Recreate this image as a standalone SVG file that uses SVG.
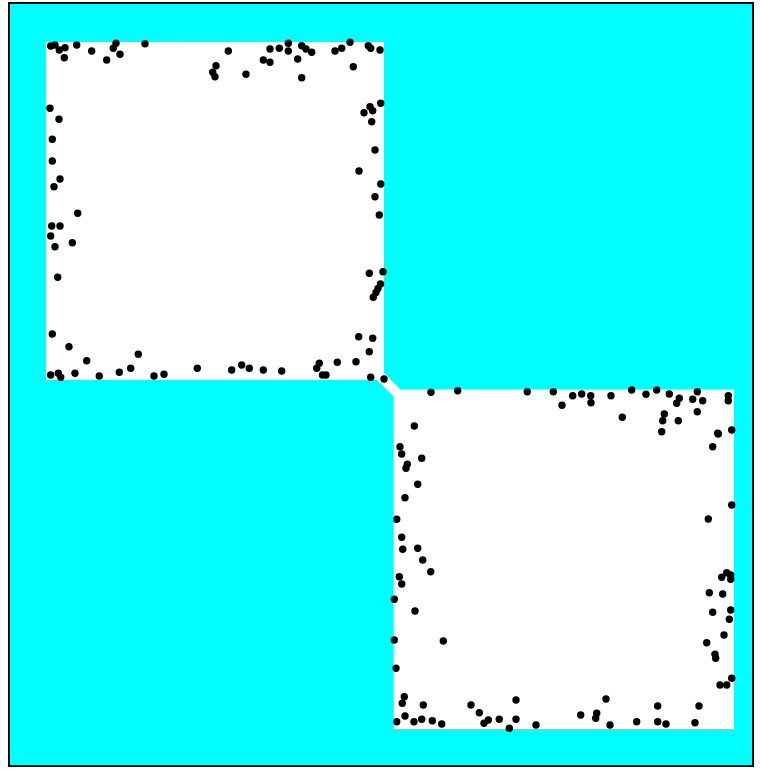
<svg xmlns="http://www.w3.org/2000/svg" xmlns:xlink="http://www.w3.org/1999/xlink" width="762" height="769" viewBox="0 0 762 769">
<style>
.d{fill:#000}
</style>
<defs><circle id="p" r="3.7" class="d"/></defs>
<rect x="0" y="0" width="762" height="769" fill="#fff"/>
<rect x="9" y="3" width="744" height="763" fill="#00ffff" stroke="#000" stroke-width="2"/>
<g id="squares" fill="#fff">
<rect x="46" y="42" width="338" height="338"/>
<rect x="393" y="389" width="341" height="340"/>
<polygon points="377,380 384,373 400,389 393,396"/>
</g>
<g id="dots">
<use href="#p" x="50.7" y="46"/><use href="#p" x="55" y="45"/><use href="#p" x="59.3" y="50"/><use href="#p" x="65" y="47.7"/><use href="#p" x="64.3" y="57.7"/><use href="#p" x="76.7" y="45"/><use href="#p" x="91.7" y="51"/><use href="#p" x="116" y="43.3"/><use href="#p" x="113.3" y="48.3"/><use href="#p" x="120" y="54.3"/><use href="#p" x="106.7" y="60"/><use href="#p" x="145" y="43.7"/>
<use href="#p" x="228.3" y="51"/><use href="#p" x="270" y="49"/><use href="#p" x="279.3" y="48.3"/><use href="#p" x="288.3" y="43.3"/><use href="#p" x="288.3" y="51"/><use href="#p" x="301.7" y="45.7"/><use href="#p" x="306" y="49"/><use href="#p" x="311.7" y="52.3"/><use href="#p" x="297.7" y="59"/><use href="#p" x="263.3" y="60"/><use href="#p" x="270" y="62.3"/><use href="#p" x="216" y="65.7"/><use href="#p" x="212.7" y="72.3"/><use href="#p" x="215" y="76.7"/><use href="#p" x="246" y="74.3"/><use href="#p" x="301.7" y="77.7"/><use href="#p" x="335" y="51"/><use href="#p" x="341.7" y="48.3"/><use href="#p" x="350" y="42.3"/><use href="#p" x="368.3" y="45.7"/><use href="#p" x="370.7" y="48.3"/><use href="#p" x="380" y="50"/><use href="#p" x="353.3" y="66.7"/>
<use href="#p" x="50" y="108.3"/><use href="#p" x="59" y="119.3"/><use href="#p" x="52.3" y="139.3"/><use href="#p" x="52.3" y="161"/><use href="#p" x="60" y="179"/><use href="#p" x="54" y="186.7"/><use href="#p" x="77.7" y="213.3"/><use href="#p" x="51.7" y="226"/><use href="#p" x="60" y="226"/><use href="#p" x="50.7" y="236"/><use href="#p" x="55" y="246.7"/><use href="#p" x="72.3" y="242.7"/><use href="#p" x="57.7" y="277.3"/>
<use href="#p" x="380.7" y="103.3"/><use href="#p" x="370" y="106.7"/><use href="#p" x="372.7" y="110.7"/><use href="#p" x="364" y="112.7"/><use href="#p" x="371.7" y="121.7"/><use href="#p" x="375" y="150"/><use href="#p" x="359" y="171"/><use href="#p" x="380.7" y="184"/><use href="#p" x="375" y="196.7"/><use href="#p" x="379.3" y="215"/><use href="#p" x="369.3" y="273.3"/><use href="#p" x="383" y="271.7"/><use href="#p" x="380.5" y="284"/><use href="#p" x="378" y="288.5"/><use href="#p" x="376" y="292.5"/><use href="#p" x="373.3" y="297.3"/>
<use href="#p" x="358.7" y="336.7"/><use href="#p" x="372.7" y="338.3"/><use href="#p" x="369.3" y="351.7"/><use href="#p" x="356" y="361.7"/><use href="#p" x="337.3" y="362.3"/><use href="#p" x="319.3" y="363.3"/><use href="#p" x="316.7" y="368.3"/><use href="#p" x="322.5" y="375"/><use href="#p" x="326" y="375"/><use href="#p" x="370.7" y="377.3"/><use href="#p" x="384" y="379"/><use href="#p" x="281.7" y="371"/><use href="#p" x="263.3" y="370"/><use href="#p" x="249.3" y="368.3"/><use href="#p" x="241.7" y="365"/><use href="#p" x="231.7" y="370"/>
<use href="#p" x="52.3" y="334"/><use href="#p" x="69" y="346.7"/><use href="#p" x="86.7" y="360.7"/><use href="#p" x="138.3" y="354.3"/><use href="#p" x="130.7" y="368.3"/><use href="#p" x="119.3" y="372.3"/><use href="#p" x="197.3" y="368.3"/><use href="#p" x="50.7" y="375"/><use href="#p" x="58.3" y="373.3"/><use href="#p" x="60.7" y="377.3"/><use href="#p" x="75" y="373.3"/><use href="#p" x="99.3" y="376"/><use href="#p" x="154" y="376"/><use href="#p" x="164" y="374.3"/>
<use href="#p" x="431" y="392.3"/><use href="#p" x="457.7" y="390.7"/><use href="#p" x="527.3" y="391.7"/><use href="#p" x="553.3" y="391.7"/><use href="#p" x="562" y="405.3"/><use href="#p" x="414.3" y="426"/>
<use href="#p" x="572.7" y="395.7"/><use href="#p" x="581.7" y="394"/><use href="#p" x="590.7" y="395.7"/><use href="#p" x="591" y="402.7"/><use href="#p" x="611" y="395.7"/><use href="#p" x="631.7" y="390"/><use href="#p" x="646" y="394.3"/><use href="#p" x="656.7" y="390"/><use href="#p" x="669.3" y="394"/><use href="#p" x="679.3" y="398.3"/><use href="#p" x="676.7" y="403.3"/><use href="#p" x="692.7" y="399.3"/><use href="#p" x="697.3" y="391.7"/><use href="#p" x="702.7" y="400.7"/><use href="#p" x="728.3" y="395.7"/><use href="#p" x="728.3" y="400.7"/><use href="#p" x="622.3" y="417.3"/><use href="#p" x="664.3" y="414"/><use href="#p" x="662.7" y="420.7"/><use href="#p" x="678.3" y="420.7"/><use href="#p" x="697.3" y="411.7"/><use href="#p" x="661.7" y="431.7"/><use href="#p" x="717.7" y="433.3"/><use href="#p" x="731.7" y="430"/>
<use href="#p" x="400" y="446.7"/><use href="#p" x="401.7" y="454"/><use href="#p" x="407.3" y="464.3"/><use href="#p" x="406" y="468.3"/><use href="#p" x="421.7" y="458.3"/><use href="#p" x="417.7" y="484.3"/><use href="#p" x="405" y="497.7"/><use href="#p" x="396.7" y="519.3"/><use href="#p" x="401.7" y="537.3"/><use href="#p" x="402.7" y="549.3"/><use href="#p" x="417.7" y="548.3"/><use href="#p" x="422.7" y="560"/><use href="#p" x="430.7" y="571.7"/><use href="#p" x="399.3" y="576.7"/><use href="#p" x="401.7" y="584"/><use href="#p" x="394.3" y="599.3"/><use href="#p" x="415" y="611"/><use href="#p" x="394.3" y="640"/><use href="#p" x="443.3" y="641"/><use href="#p" x="396" y="668.3"/>
<use href="#p" x="718.3" y="434"/><use href="#p" x="712.7" y="446.7"/><use href="#p" x="731.7" y="505"/><use href="#p" x="708.3" y="519"/><use href="#p" x="726.7" y="572.7"/><use href="#p" x="721.7" y="577.3"/><use href="#p" x="730.7" y="575"/><use href="#p" x="730.7" y="579.3"/><use href="#p" x="709.3" y="592.7"/><use href="#p" x="722.7" y="594"/><use href="#p" x="712.7" y="612.3"/><use href="#p" x="730.7" y="610"/><use href="#p" x="729.3" y="619.3"/><use href="#p" x="724" y="635"/><use href="#p" x="706.7" y="642.7"/><use href="#p" x="715" y="654.3"/><use href="#p" x="715.7" y="658.3"/><use href="#p" x="731.7" y="678.3"/><use href="#p" x="726.7" y="685"/><use href="#p" x="720" y="685"/><use href="#p" x="699" y="706"/>
<use href="#p" x="404.3" y="696.7"/><use href="#p" x="402.3" y="703.3"/><use href="#p" x="423.3" y="705"/><use href="#p" x="471" y="705"/><use href="#p" x="479.3" y="712.7"/><use href="#p" x="516" y="700"/><use href="#p" x="405" y="716"/><use href="#p" x="396.7" y="721.7"/><use href="#p" x="414" y="721.7"/><use href="#p" x="421.7" y="719.3"/><use href="#p" x="432.3" y="720.7"/><use href="#p" x="441.7" y="724"/><use href="#p" x="484" y="723.3"/><use href="#p" x="488.3" y="720"/><use href="#p" x="499.3" y="719.3"/><use href="#p" x="509.3" y="728.3"/><use href="#p" x="516" y="719.3"/><use href="#p" x="536" y="725"/>
<use href="#p" x="606" y="699"/><use href="#p" x="580.7" y="715"/><use href="#p" x="596.7" y="713.3"/><use href="#p" x="595.7" y="718.3"/><use href="#p" x="610" y="725"/><use href="#p" x="636.7" y="721.7"/><use href="#p" x="657.7" y="706"/><use href="#p" x="657.7" y="721.7"/><use href="#p" x="666" y="724"/><use href="#p" x="695" y="722.7"/>
</g>
</svg>
